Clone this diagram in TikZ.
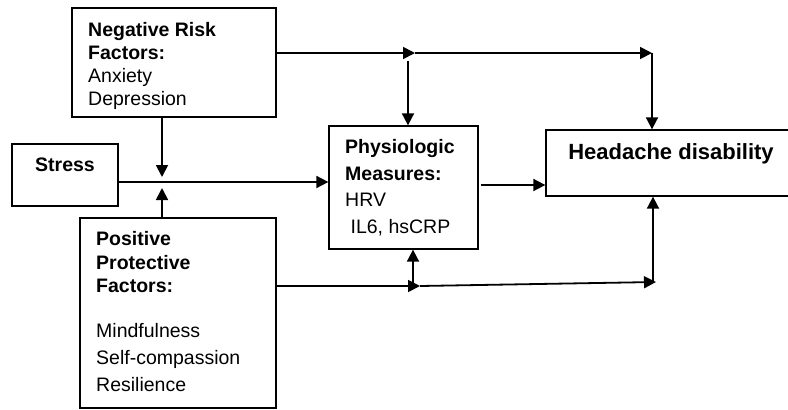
\documentclass[tikz,border=0pt]{standalone}
\usepackage{fontspec}
\setmainfont{Liberation Sans}
\usetikzlibrary{arrows.meta}
\tikzset{
  box/.style={draw, line width=1.3pt, rectangle, inner sep=0pt},
  txt/.style={align=left, inner sep=0pt, font=\fontsize{19.5}{23.3}\selectfont},
  arr/.style={line width=1.8pt, -{Triangle[length=12pt,width=12pt]}},
}
\begin{document}
\begin{tikzpicture}[x=1pt,y=-1pt]
  \clip (0,0) rectangle (788,410);
  % Boxes
  \node[box, minimum width=204pt, minimum height=109pt] (neg) at (174,62.5) {};
  \node[box, minimum width=106pt, minimum height=62pt] (stress) at (65,175) {};
  \node[box, minimum width=196pt, minimum height=190pt] (pos) at (178,313) {};
  \node[box, minimum width=149pt, minimum height=123pt] (phys) at (403.5,187.5) {};
  \node[box, minimum width=260pt, minimum height=66pt] (head) at (676,163) {};
  % Texts
  \node[txt, anchor=north west] (negtxt) at (88,21.7)
    {\textbf{Negative Risk}\\\textbf{Factors:}\\Anxiety\\Depression};
  \node[txt, anchor=base] (stresstxt) at (65,171) {\textbf{Stress}};
  \node[txt, anchor=north west] (postxt) at (96,231.4)
    {\textbf{Positive}\\\textbf{Protective}\\\textbf{Factors:}\\[22.3pt]Mindfulness\\[3.4pt]Self-compassion\\[3.4pt]Resilience};
  \node[txt, anchor=north west, font=\fontsize{19.5}{26.5}\selectfont] (phystxt) at (345,139.5)
    {\textbf{Physiologic}\\\textbf{Measures:}\\HRV\\~IL6, hsCRP};
  \node[txt, anchor=base, font=\fontsize{22}{26}\selectfont\bfseries] (headtxt) at (671,159) {Headache disability};
  % Connectors
  \coordinate (negsplit) at (415,53);
  \coordinate (negturn) at (652,53);
  \coordinate (negdown) at (408,61);
  \coordinate (negmod) at (162,177);
  \coordinate (posmod) at (162,188);
  \coordinate (possplit) at (420,286);
  \coordinate (posturn) at (656,282);
  \coordinate (posup) at (413,283);
  \draw[arr] (neg.east |- negsplit) -- (negsplit);
  \draw[arr] (negsplit) -- (negturn);
  \draw[arr] (negturn) -- (negturn |- head.north);
  \draw[arr] (negdown) -- (negdown |- phys.north);
  \draw[arr] (negmod |- neg.south) -- (negmod);
  \draw[arr] (posmod |- pos.north) -- (posmod);
  \draw[arr] ([yshift=-7pt]stress.east) -- ([yshift=-7pt]stress.east -| phys.west);
  \draw[arr] ([xshift=2pt,yshift=2.5pt]phys.east) -- ([yshift=2.5pt]phys.east -| head.west);
  \draw[arr] (pos.east |- possplit) -- (possplit);
  \draw[arr] (possplit) -- (posturn);
  \draw[arr] ([xshift=-3pt]posturn) -- ([xshift=-3pt]posturn |- head.south);
  \draw[arr] (posup) -- (posup |- phys.south);
\end{tikzpicture}
\end{document}
